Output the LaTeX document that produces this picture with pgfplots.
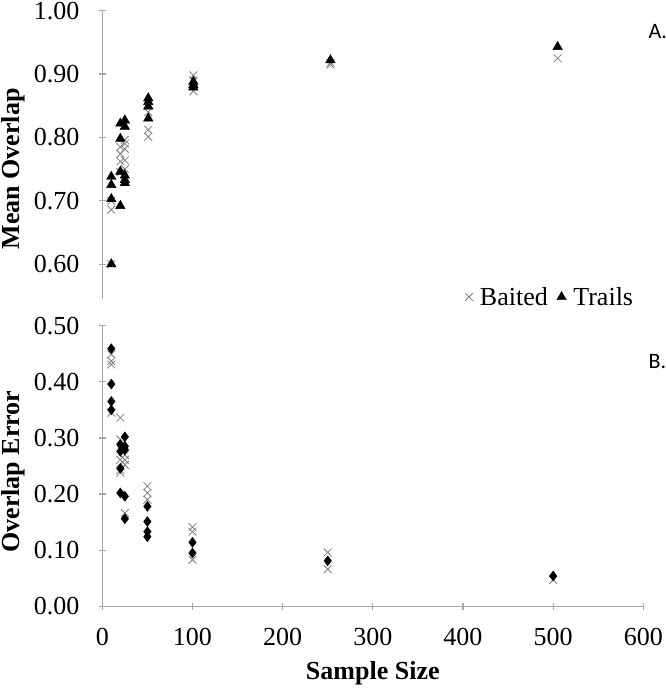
\documentclass[border=0pt]{standalone}
\usepackage{pgfplots}
\pgfplotsset{compat=1.18}
\usepackage{fontspec}
\setmainfont{Liberation Serif}
\newfontfamily\calib{Carlito}
\definecolor{AxGray}{HTML}{A6A6A6}
\definecolor{CrossGray}{HTML}{7F7F7F}

\pgfplotstableread{
x y
10 0.700
10 0.686
10 0.600
20 0.785
20 0.774
20 0.762
20 0.745
25 0.796
25 0.790
25 0.782
25 0.764
25 0.750
51 0.850
51 0.840
51 0.812
51 0.801
101 0.898
101 0.890
101 0.873
253 0.918
253 0.915
505 0.925
}\topbaited
\pgfplotstableread{
x y
10 0.738
10 0.725
10 0.703
10 0.600
20 0.822
20 0.798
20 0.746
20 0.692
25 0.827
25 0.817
25 0.740
25 0.733
25 0.728
51 0.862
51 0.856
51 0.849
51 0.830
101 0.888
101 0.883
101 0.879
253 0.922
505 0.943
}\toptrails
\pgfplotstableread{
x y
10 0.449
10 0.437
10 0.431
10 0.345
20 0.336
20 0.297
20 0.261
20 0.243
20 0.238
25 0.270
25 0.261
25 0.252
25 0.166
50 0.214
50 0.202
50 0.190
100 0.141
100 0.133
100 0.083
250 0.096
250 0.066
500 0.047
}\botbaited
\pgfplotstableread{
x y
10 0.459
10 0.396
10 0.365
10 0.350
20 0.288
20 0.276
20 0.246
20 0.202
25 0.302
25 0.285
25 0.279
25 0.196
25 0.156
50 0.178
50 0.151
50 0.133
50 0.124
100 0.114
100 0.095
250 0.081
500 0.054
}\bottrails

\tikzset{
  ylab/.style={rotate=90, anchor=center,
      font=\fontsize{26}{30}\selectfont\bfseries},
}
\pgfplotsset{
  panel/.style={
    scale only axis,
    width=541pt,
    xmin=0, xmax=600,
    tick style={AxGray, line width=1.2pt},
    tick align=outside,
    major tick length=7pt,
    tick label style={font=\fontsize{26}{30}\selectfont},
    yticklabel style={xshift=-16pt, /pgf/number format/.cd, fixed, fixed zerofill, precision=2},
    xticklabel style={yshift=-15pt},
    /pgf/number format/assume math mode=true,
    clip=false,
  },
  lines/.style={
    axis line style={AxGray, line width=1.2pt},
    every outer x axis line/.append style={-},
    every outer y axis line/.append style={-},
  },
  baited/.style={only marks, mark=x, mark size=5.5pt, CrossGray, mark options={line width=0.8pt}},
  trails/.style={only marks, mark=triangle*, mark size=5.5pt, black},
  trailsd/.style={only marks, mark=diamond*, mark size=5pt, black},
}

\begin{document}
\begin{tikzpicture}
  \path[use as bounding box] (0,0) rectangle (666pt,691pt);

  \begin{axis}[
    panel,
    at={(102.3pt,392pt)}, anchor=south west,
    height=288.3pt,
    ymin=0.545, ymax=1.0,
    ytick={0.6,0.7,0.8,0.9,1.0},
    axis x line=none,
    axis y line=left,
    lines,
    ylabel={Mean Overlap},
    every axis y label/.style={ylab, at={(axis description cs:-0.165,0.451)}},
    legend columns=2,
    legend style={draw=none, fill=none, at={(axis description cs:1.0,0.007)}, anchor=east,
      font=\fontsize{26}{30}\selectfont,
      nodes={inner xsep=7pt},
      /tikz/every even column/.append style={column sep=2pt}},
    legend cell align=left,
  ]
    \addplot[baited] table {\topbaited};
    \addlegendentry{Baited}
    \addplot[trails] table {\toptrails};
    \addlegendentry{Trails}
  \end{axis}

  \begin{axis}[
    panel,
    at={(102.3pt,84.7pt)}, anchor=south west,
    height=280.6pt,
    ymin=0, ymax=0.5,
    ytick={0,0.1,0.2,0.3,0.4,0.5},
    xtick={0,100,200,300,400,500,600},
    axis x line=bottom,
    axis y line=left,
    lines,
    ylabel={Overlap Error},
    xlabel={Sample Size},
    every axis y label/.style={ylab, at={(axis description cs:-0.165,0.48)}},
    every axis x label/.style={at={(axis description cs:0.5,-0.24)}, anchor=center,
      font=\fontsize{26}{30}\selectfont\bfseries},
  ]
    \addplot[baited] table {\botbaited};
    \addplot[trailsd] table {\bottrails};
  \end{axis}

  \node[font=\calib\fontsize{22}{26}\selectfont, anchor=west] at (645pt,659pt) {A.};
  \node[font=\calib\fontsize{22}{26}\selectfont, anchor=west] at (645pt,329pt) {B.};
\end{tikzpicture}
\end{document}
